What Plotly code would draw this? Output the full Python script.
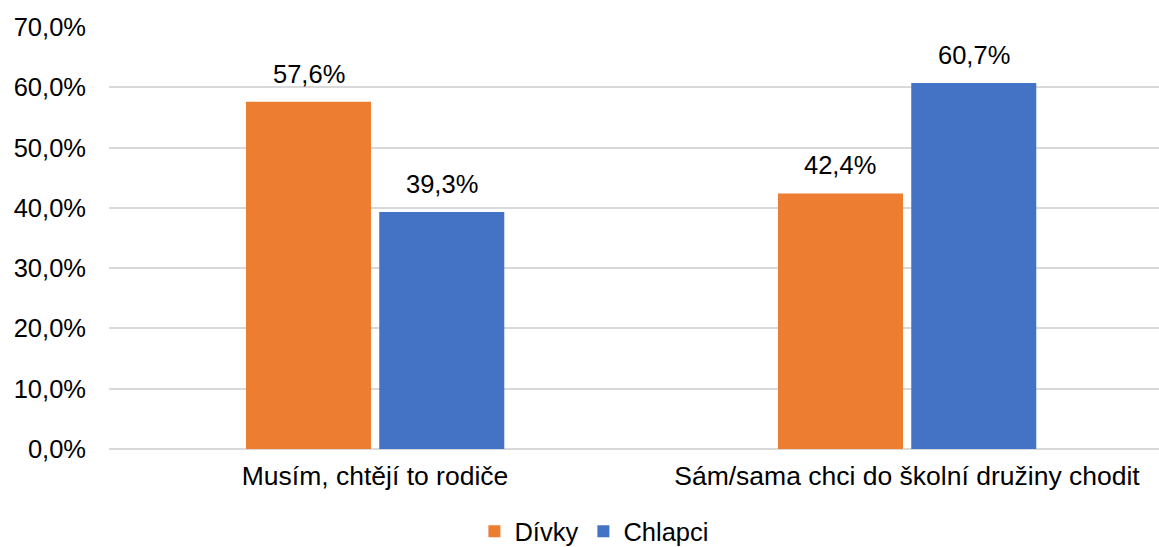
import plotly.graph_objects as go

categories = ["Musím, chtějí to rodiče", "Sám/sama chci do školní družiny chodit"]
divky = [0.576, 0.424]
chlapci = [0.393, 0.607]
series_names = ["Dívky", "Chlapci"]
colors = ["#ED7D31", "#4472C4"]

FONT = "Liberation Sans, Arial, sans-serif"
FS = 25.5
BAR_W = 0.235
OFFSETS = [-0.2425, 0.008]

fig = go.Figure()
annotations = []
for name, vals, col, off in [(series_names[0], divky, colors[0], OFFSETS[0]),
                             (series_names[1], chlapci, colors[1], OFFSETS[1])]:
    fig.add_trace(go.Bar(
        x=categories, y=vals, name=name,
        marker=dict(color=col, line=dict(width=0)),
        width=BAR_W, offset=off,
        cliponaxis=False,
    ))
    for i, v in enumerate(vals):
        annotations.append(dict(
            x=i + off + BAR_W / 2, y=v, xref="x", yref="y",
            text=f"{v*100:.1f}%".replace(".", ","),
            showarrow=False, yanchor="bottom", xanchor="center", yshift=12,
            font=dict(family=FONT, size=FS, color="#000000"),
        ))

fig.update_layout(
    width=1159, height=547,
    margin=dict(l=109, r=0, t=27, b=98, autoexpand=False),
    paper_bgcolor="white", plot_bgcolor="white",
    separators=", ",
    barmode="group",
    font=dict(family=FONT, size=FS, color="#000000"),
    showlegend=True,
    legend=dict(orientation="h", x=0.348, xanchor="left", y=-0.14, yanchor="top",
                font=dict(family=FONT, size=FS, color="#000000"),
                itemwidth=30, tracegroupgap=0),
    xaxis=dict(range=[-0.5, 1.4737], showgrid=False, showline=False, zeroline=False,
               ticks="", tickfont=dict(family=FONT, size=26.5, color="#000000"),
               ticklabelstandoff=8),
    yaxis=dict(range=[0, 0.7], dtick=0.1, tickformat=".1%", showgrid=True,
               gridcolor="#d9d9d9", gridwidth=1.5, zeroline=True, zerolinecolor="#d9d9d9",
               zerolinewidth=1.5, showline=False, ticks="",
               tickfont=dict(family=FONT, size=FS, color="#000000"),
               ticklabelstandoff=22),
    annotations=annotations,
)

fig.write_html("out.html", config={"displayModeBar": False},
               post_script="document.body.style.margin='0';document.body.style.overflow='hidden';")
